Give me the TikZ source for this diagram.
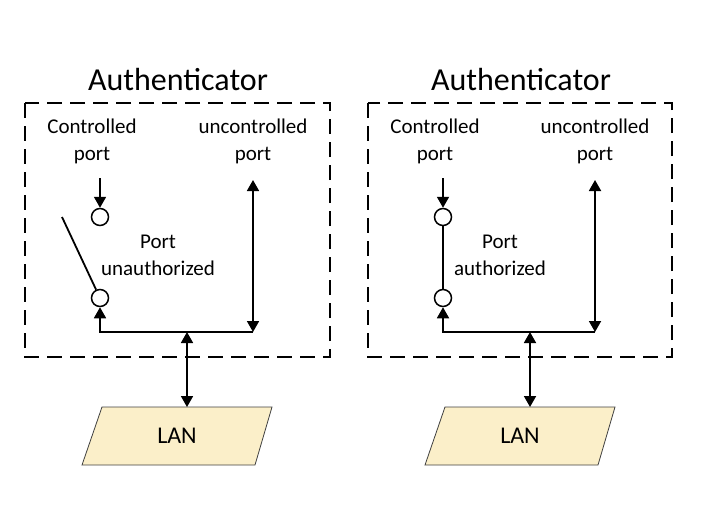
\documentclass[tikz,border=0pt]{standalone}
\usepackage{fontspec}
\setmainfont{Carlito}
\usepackage{xcolor}
\usetikzlibrary{arrows.meta,positioning}

\definecolor{lanfill}{HTML}{FBEFC9}

\begin{document}
\begin{tikzpicture}[
    x=1pt, y=-1pt,
    authbox/.style={draw, dash pattern=on 15pt off 8pt, line width=1.8pt},
    boxtitle/.style={font=\fontsize{32}{38}\selectfont},
    portlabel/.style={align=center, font=\fontsize{21}{27}\selectfont},
    port/.style={circle, draw, line width=1.5pt, fill=white, minimum size=17pt, inner sep=0pt},
    wire/.style={line width=1.8pt},
    arrow/.style={wire, -{Triangle[length=11pt, width=12pt]}},
    darrow/.style={wire, {Triangle[length=11pt, width=12pt]}-{Triangle[length=11pt, width=12pt]}},
    lanshape/.style={draw=black!75, line width=0.8pt, fill=lanfill},
    lantext/.style={font=\fontsize{24}{28}\selectfont}
]
    \useasboundingbox (0,0) rectangle (707,520);

    % left authenticator: port unauthorized
    \draw[authbox] (25,103) rectangle (330,357);
    \node[boxtitle] (ltitle) at (178,80) {Authenticator};
    \node[portlabel] (lctl) at (92,141) {Controlled\\port};
    \node[portlabel] (lunc) at (253,141) {uncontrolled\\port};
    \node[portlabel] (lstate) at (158,255) {Port\\unauthorized};
    \node[port] (ltop) at (100,217) {};
    \node[port] (lbot) at (100,298) {};
    \coordinate (lin) at (100,178);
    \coordinate (lsw) at (62,217);
    \coordinate (luncin) at (253,180);
    \coordinate (lcorner) at (253,332);
    \coordinate (lmid) at (187,332);
    \coordinate (llanin) at (187,407);
    \draw[lanshape] (102,407) -- (272,407) -- (255,465) -- (82,465) -- cycle;
    \node[lantext] (llan) at (177,436) {LAN};

    \draw[arrow] (lin) -- (ltop);
    \draw[wire] (lsw) -- (lbot);
    \draw[arrow] (lcorner) -| (lbot);
    \draw[darrow] (luncin) -- (lcorner);
    \draw[darrow] (lmid) -- (llanin);

    % right authenticator: port authorized
    \draw[authbox] (368,103) rectangle (672,357);
    \node[boxtitle] (rtitle) at (521,80) {Authenticator};
    \node[portlabel] (rctl) at (435,141) {Controlled\\port};
    \node[portlabel] (runc) at (595,141) {uncontrolled\\port};
    \node[portlabel] (rstate) at (500,255) {Port\\authorized};
    \node[port] (rtop) at (443,217) {};
    \node[port] (rbot) at (443,298) {};
    \coordinate (rin) at (443,178);
    \coordinate (runcin) at (595,180);
    \coordinate (rcorner) at (595,332);
    \coordinate (rmid) at (530,332);
    \coordinate (rlanin) at (530,407);
    \draw[lanshape] (445,407) -- (615,407) -- (598,465) -- (425,465) -- cycle;
    \node[lantext] (rlan) at (520,436) {LAN};

    \draw[arrow] (rin) -- (rtop);
    \draw[wire] (rtop) -- (rbot);
    \draw[arrow] (rcorner) -| (rbot);
    \draw[darrow] (runcin) -- (rcorner);
    \draw[darrow] (rmid) -- (rlanin);
\end{tikzpicture}
\end{document}
